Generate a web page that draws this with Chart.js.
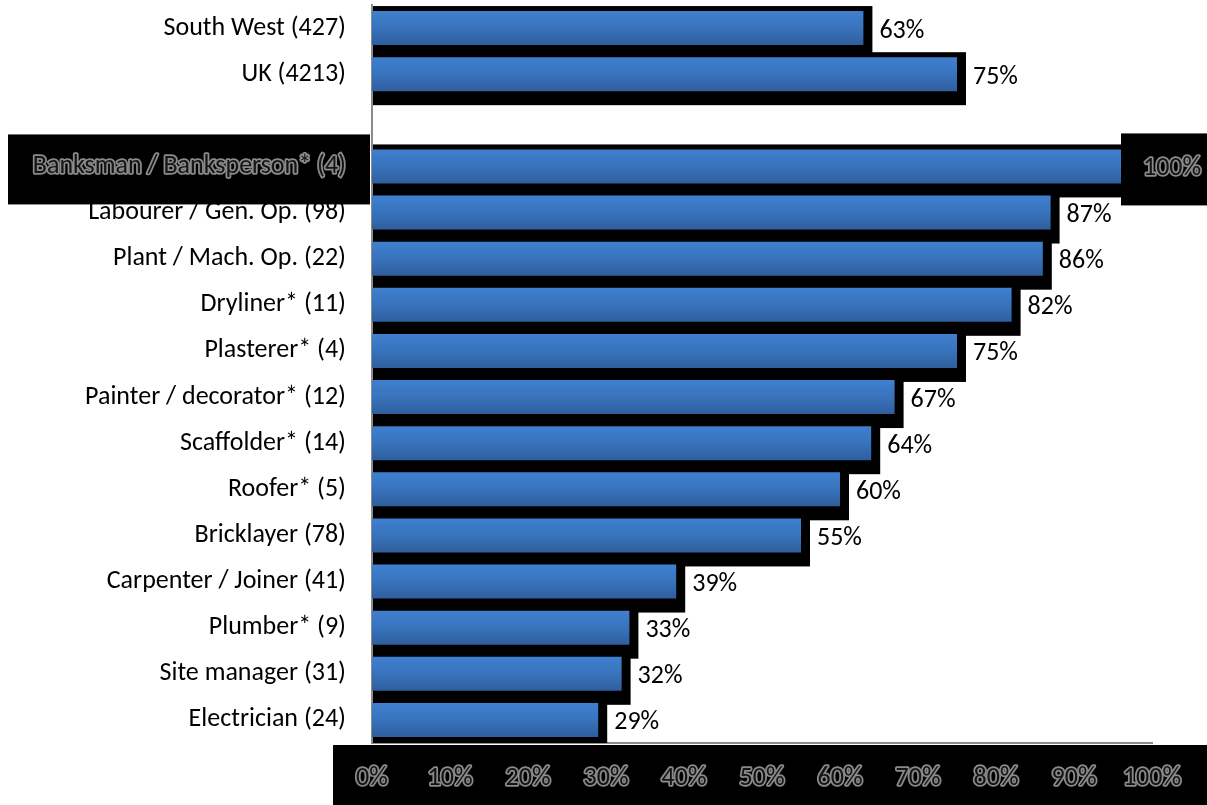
<!DOCTYPE html>
<html>
<head>
<meta charset="utf-8">
<title>Share by trade</title>
<script src="https://cdn.jsdelivr.net/npm/chart.js@4.4.1/dist/chart.umd.min.js"></script>
<style>
  html, body { margin: 0; padding: 0; background: #ffffff; }
  #chart { display: block; }
</style>
</head>
<body>
<canvas id="chart" width="1207" height="805"></canvas>
<script>
// Rows, top to bottom; the empty label leaves a spacer row between the
// comparison groups and the trades.
const categories = [
  'South West (427)',
  'UK (4213)',
  '',
  'Banksman / Banksperson* (4)',
  'Labourer / Gen. Op. (98)',
  'Plant / Mach. Op. (22)',
  'Dryliner* (11)',
  'Plasterer* (4)',
  'Painter / decorator* (12)',
  'Scaffolder* (14)',
  'Roofer* (5)',
  'Bricklayer (78)',
  'Carpenter / Joiner (41)',
  'Plumber* (9)',
  'Site manager (31)',
  'Electrician (24)'
];
const percentValues = [63, 75, null, 100, 87, 86, 82, 75, 67, 64, 60, 55, 39, 33, 32, 29];
const xTickValues = [0, 10, 20, 30, 40, 50, 60, 70, 80, 90, 100];
const highlightedRow = 3;

const FONT = 'Carlito, Lato, "Liberation Sans", sans-serif';
const FONT_SIZE = 26;
const BAR_SHARE = 0.737;
const GLOW = '#8a8a8a';

// vertical blue gradient per bar, computed from the category scale
function barGradient(c) {
  const chart = c.chart;
  const ys = chart.scales && chart.scales.y;
  if (!ys || c.dataIndex == null) return '#3873bd';
  const cy = ys.getPixelForValue(c.dataIndex);
  const half = Math.abs(ys.getPixelForValue(1) - ys.getPixelForValue(0)) * BAR_SHARE / 2;
  if (!isFinite(cy) || !isFinite(half) || half <= 0) return '#3873bd';
  const g = chart.ctx.createLinearGradient(0, cy - half, 0, cy + half);
  g.addColorStop(0, '#3f80cf');
  g.addColorStop(0.5, '#3873bd');
  g.addColorStop(1, '#2f5e9c');
  return g;
}

// black boxes behind the bottom tick labels and the highlighted row label
const backdropPlugin = {
  id: 'backdrops',
  beforeDraw(chart) {
    const ctx = chart.ctx;
    const xs = chart.scales.x, ys = chart.scales.y;
    ctx.save();
    ctx.fillStyle = '#ffffff';
    ctx.fillRect(0, 0, chart.width, chart.height);
    ctx.fillStyle = '#000000';
    // band under the percentage ticks
    ctx.fillRect(xs.left - 39, xs.top + 2, chart.width - (xs.left - 39), chart.height - xs.top - 2);
    // highlighted category label
    const hy = ys.getPixelForValue(highlightedRow);
    ctx.fillRect(8, hy - 32, ys.right - 10, 70);
    ctx.restore();
    // rounded joins for the outlined tick labels
    ctx.lineJoin = 'round';
  }
};

// offset black shadow behind every bar
const barShadowPlugin = {
  id: 'barShadow',
  beforeDatasetsDraw(chart) {
    const ctx = chart.ctx;
    const area = chart.chartArea;
    const meta = chart.getDatasetMeta(0);
    ctx.save();
    ctx.beginPath();
    ctx.rect(area.left, area.top, area.right - area.left + 60, area.bottom - area.top);
    ctx.clip();
    ctx.fillStyle = '#000000';
    meta.data.forEach((el, i) => {
      if (percentValues[i] == null) return;
      const p = el.getProps(['x', 'y', 'base', 'height'], true);
      ctx.fillRect(p.base + 1, p.y - p.height / 2 - 5, p.x + 9 - p.base - 1, p.height + 19);
    });
    ctx.restore();
  }
};

// value labels at the end of each bar
const valueLabelPlugin = {
  id: 'valueLabels',
  afterDatasetsDraw(chart) {
    const ctx = chart.ctx;
    const meta = chart.getDatasetMeta(0);
    ctx.save();
    ctx.font = FONT_SIZE + 'px ' + FONT;
    ctx.textBaseline = 'middle';
    ctx.textAlign = 'left';
    meta.data.forEach((el, i) => {
      const v = percentValues[i];
      if (v == null) return;
      const p = el.getProps(['x', 'y'], true);
      const text = v + '%';
      if (i === highlightedRow) {
        ctx.fillStyle = '#000000';
        ctx.fillRect(p.x - 31, p.y - 33, chart.width - (p.x - 31), 72);
        ctx.lineJoin = 'round';
        ctx.lineWidth = 3.5;
        ctx.strokeStyle = GLOW;
        ctx.strokeText(text, p.x - 9, p.y + 2);
        ctx.fillStyle = '#151515';
        ctx.fillText(text, p.x - 9, p.y + 2);
      } else {
        ctx.fillStyle = '#000000';
        ctx.fillText(text, p.x + 16, p.y + 3);
      }
    });
    ctx.restore();
  }
};

new Chart(document.getElementById('chart'), {
  type: 'bar',
  data: {
    labels: categories,
    datasets: [{
      data: percentValues,
      backgroundColor: barGradient,
      borderWidth: 0,
      barPercentage: BAR_SHARE,
      categoryPercentage: 1
    }]
  },
  options: {
    indexAxis: 'y',
    responsive: false,
    animation: false,
    events: [],
    layout: { padding: { top: 5, right: 55, left: 0, bottom: 0 } },
    plugins: {
      legend: { display: false },
      tooltip: { enabled: false }
    },
    scales: {
      x: {
        type: 'linear',
        min: 0,
        max: 100,
        afterFit(scale) { scale.height = 62; },
        afterBuildTicks(scale) { scale.ticks = xTickValues.map(v => ({ value: v })); },
        grid: { display: false, drawTicks: false },
        border: { display: true, color: '#8c8c8c', width: 2 },
        ticks: {
          padding: 20,
          maxRotation: 0,
          autoSkip: false,
          font: { family: FONT, size: FONT_SIZE },
          color: '#141414',
          textStrokeColor: GLOW,
          textStrokeWidth: 3.5,
          callback: v => v + '%'
        }
      },
      y: {
        type: 'category',
        afterFit(scale) {
          scale.width = 372;
          scale.paddingTop = 0;
          scale.paddingBottom = 0;
        },
        grid: { display: false, drawTicks: false },
        border: { display: true, color: '#8c8c8c', width: 2 },
        ticks: {
          padding: 26,
          autoSkip: false,
          font: { family: FONT, size: FONT_SIZE },
          color: c => c.index === highlightedRow ? '#151515' : '#000000',
          textStrokeColor: c => c.index === highlightedRow ? GLOW : 'rgba(0,0,0,0)',
          textStrokeWidth: c => c.index === highlightedRow ? 3.5 : 0
        }
      }
    }
  },
  plugins: [backdropPlugin, barShadowPlugin, valueLabelPlugin]
});
</script>
</body>
</html>
